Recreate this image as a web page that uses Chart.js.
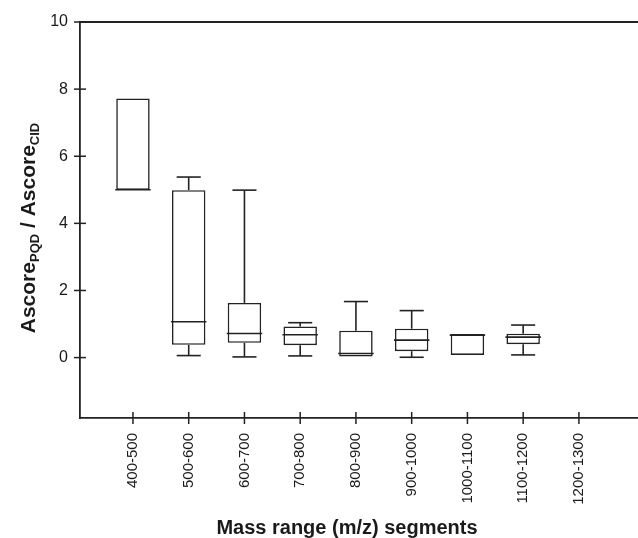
<!DOCTYPE html>
<html lang="en">
<head>
<meta charset="UTF-8">
<title>Ascore ratio by mass range</title>
<style>
  html, body { margin: 0; padding: 0; background: #fff; }
  #wrap { width: 638px; height: 538px; }
</style>
<script src="https://cdn.jsdelivr.net/npm/chart.js"></script>
</head>
<body>
<div id="wrap"><canvas id="chart"></canvas></div>
<script>
// box plot values (null = no data in that segment)
const categories  = ['400-500', '500-600', '600-700', '700-800', '800-900', '900-1000', '1000-1100', '1100-1200', '1200-1300'];
const whiskerLow  = [5.00, 0.06, 0.02, 0.05, 0.03, 0.01, 0.08, 0.08, null];
const q1          = [5.00, 0.38, 0.44, 0.37, 0.03, 0.19, 0.08, 0.40, null];
const median      = [5.00, 1.07, 0.72, 0.68, 0.12, 0.52, 0.67, 0.61, null];
const q3          = [7.72, 4.99, 1.63, 0.93, 0.80, 0.86, 0.70, 0.71, null];
const whiskerHigh = [7.72, 5.38, 4.99, 1.04, 1.67, 1.40, 0.70, 0.97, null];
const yTicks = [0, 2, 4, 6, 8, 10];

const INK = '#222';
const FONT = '"Liberation Sans", Arial, Helvetica, sans-serif';

const boxes = [];
categories.forEach((c, i) => {
  if (q1[i] != null) boxes.push({ x: i, y: [q1[i], q3[i]] });
});

function seg(ctx, x0, y0, x1, y1) {
  ctx.beginPath();
  ctx.moveTo(x0, y0);
  ctx.lineTo(x1, y1);
  ctx.stroke();
}

const boxExtras = {
  id: 'boxExtras',
  afterDatasetsDraw(chart) {
    const { ctx, chartArea, scales: { x, y } } = chart;
    const meta = chart.getDatasetMeta(0);
    ctx.save();
    ctx.strokeStyle = INK;
    ctx.lineWidth = 1.6;
    meta.data.forEach((bar, k) => {
      const i = boxes[k].x;
      const cx = x.getPixelForValue(i);
      const half = bar.width / 2;
      const cap = half * 0.72;
      if (whiskerHigh[i] > q3[i]) {
        const yt = y.getPixelForValue(whiskerHigh[i]);
        seg(ctx, cx, yt, cx, y.getPixelForValue(q3[i]));
        seg(ctx, cx - cap, yt, cx + cap, yt);
      }
      if (whiskerLow[i] < q1[i]) {
        const yb = y.getPixelForValue(whiskerLow[i]);
        seg(ctx, cx, yb, cx, y.getPixelForValue(q1[i]));
        seg(ctx, cx - cap, yb, cx + cap, yb);
      }
      const ym = y.getPixelForValue(median[i]);
      seg(ctx, cx - half - 1, ym, cx + half + 1, ym);
    });

    // frame top line and crossing tick marks
    ctx.lineWidth = 1.8;
    seg(ctx, chartArea.left, chartArea.top, chartArea.right, chartArea.top);
    ctx.lineWidth = 1.5;
    yTicks.forEach(v => {
      const py = y.getPixelForValue(v);
      seg(ctx, chartArea.left - 6, py, chartArea.left + 6, py);
    });
    categories.forEach((c, i) => {
      const px = x.getPixelForValue(i);
      seg(ctx, px, chartArea.bottom - 6, px, chartArea.bottom + 6);
    });

    // axis titles
    ctx.fillStyle = '#1a1a1a';
    ctx.textBaseline = 'alphabetic';
    ctx.textAlign = 'center';
    ctx.font = 'bold 20px ' + FONT;
    ctx.fillText('Mass range (m/z) segments', 347, 534);

    const main = 'bold 21px ' + FONT;
    const sub = 'bold 13px ' + FONT;
    const parts = [
      ['Ascore', main, 0], ['PQD', sub, 4],
      [' / Ascore', main, 0], ['CID', sub, 4]
    ];
    let total = 0;
    parts.forEach(p => { ctx.font = p[1]; p.w = ctx.measureText(p[0]).width; total += p.w; });
    ctx.translate(35, 228);
    ctx.rotate(-Math.PI / 2);
    ctx.textAlign = 'left';
    let pos = -total / 2;
    parts.forEach(p => {
      ctx.font = p[1];
      ctx.fillText(p[0], pos, p[2]);
      pos += p.w;
    });
    ctx.restore();
  }
};

new Chart(document.getElementById('chart'), {
  type: 'bar',
  data: {
    datasets: [{
      data: boxes,
      backgroundColor: '#fff',
      borderColor: INK,
      borderWidth: 1.6,
      borderSkipped: false,
      barPercentage: 1,
      categoryPercentage: 0.6
    }]
  },
  options: {
    responsive: true,
    maintainAspectRatio: false,
    animation: false,
    layout: { padding: { top: 22, right: 0, left: 0, bottom: 0 } },
    plugins: { legend: { display: false }, tooltip: { enabled: false } },
    scales: {
      x: {
        type: 'linear',
        offset: false,
        min: -0.95,
        max: 9.06,
        afterBuildTicks: s => { s.ticks = categories.map((c, i) => ({ value: i })); },
        afterFit: s => { s.height = 120; },
        grid: { display: false, drawTicks: false, offset: false },
        border: { display: true, color: INK, width: 1.8 },
        ticks: {
          autoSkip: false,
          minRotation: 90,
          maxRotation: 90,
          padding: 15,
          color: '#1a1a1a',
          font: { family: FONT, size: 15 },
          callback: v => categories[v]
        }
      },
      y: {
        min: -1.8,
        max: 10,
        afterBuildTicks: s => { s.ticks = yTicks.map(v => ({ value: v })); },
        afterFit: s => { s.width = 80; },
        grid: { display: false, drawTicks: false },
        border: { display: true, color: INK, width: 1.8 },
        ticks: {
          padding: 12,
          color: '#1a1a1a',
          font: { family: FONT, size: 16 }
        }
      }
    }
  },
  plugins: [boxExtras]
});
</script>
</body>
</html>
